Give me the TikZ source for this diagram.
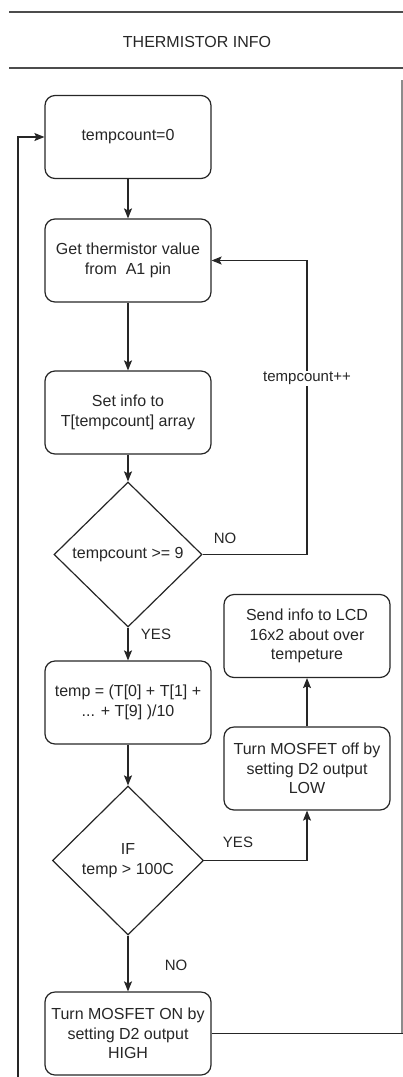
\documentclass[tikz,border=0pt]{standalone}
\usepackage{fontspec}
\setmainfont{Liberation Sans}
\usetikzlibrary{shapes.geometric,arrows.meta}
\begin{document}
\begin{tikzpicture}[x=1pt,y=-1pt,
  boxstyle/.style={draw=black!85,line width=1.2pt,rounded corners=10pt,
    minimum width=166pt,minimum height=83pt,inner sep=0pt,align=center,
    font=\fontsize{16}{19.5}\selectfont,text=black!85},
  decstyle/.style={draw=black!85,line width=1.2pt,diamond,inner sep=0pt,
    align=center,font=\fontsize{16}{19.5}\selectfont,text=black!85},
  conn/.style={draw=black!85,line width=1.2pt},
  arr/.style={conn,-{Stealth[length=10pt,width=8pt,inset=2pt]}},
  lbl/.style={font=\fontsize{15}{18}\selectfont,text=black!85},
  hdr/.style={draw=black!70,line width=1.6pt}
]
\useasboundingbox (0,0) rectangle (403,1077);
% swimlane header
\coordinate (h1a) at (9,12);
\coordinate (h1b) at (403,12);
\coordinate (h2a) at (9,68);
\coordinate (h2b) at (403,68);
\draw[hdr] (h1a) -- (h1b);
\draw[hdr] (h2a) -- (h2b);
\node[font=\fontsize{16}{19.5}\selectfont,text=black!85] (title) at (197,42) {THERMISTOR INFO};
\coordinate (lane1) at (402,80);
\coordinate (lane2) at (402,1033.5);
\draw[draw=black!45,line width=1.2pt] (lane1) -- (lane2);

% nodes
\node[boxstyle] (b1) at (128,137) {tempcount=0};
\node[boxstyle] (b2) at (128,260.5) {Get thermistor value\\from~~A1 pin};
\node[boxstyle] (b3) at (128,412.5) {Set info to\\T[tempcount] array};
\node[decstyle,minimum width=148pt,minimum height=145pt] (d1) at (128,554.5) {tempcount >= 9};
\node[boxstyle] (b4) at (128,702.5) {temp = (T[0] + T[1] +\\... + T[9] )/10};
\node[decstyle,minimum width=151pt,minimum height=149pt] (d2) at (128,860.5) {IF\\temp > 100C};
\node[boxstyle] (b5) at (128,1033.5) {Turn MOSFET ON by\\setting D2 output\\HIGH};
\node[boxstyle] (b6) at (307,768.5) {Turn MOSFET off by\\setting D2 output\\LOW};
\node[boxstyle] (b7) at (307,636) {Send info to LCD\\16x2 about over\\tempeture};

% connectors
\draw[arr] (b1) -- (b2);
\draw[arr] (b2) -- (b3);
\draw[arr] (b3) -- (d1);
\coordinate (nocorner) at (307,554.5);
\draw[arr] (d1.east) -- (nocorner) |- (b2.east)
  node[pos=0.3,fill=white,inner sep=1pt,lbl] {tempcount++};
\node[lbl] (no1) at (225,538) {NO};
\draw[arr] (d1) -- (b4);
\node[lbl] (yes1) at (156,634) {YES};
\draw[arr] (b4) -- (d2);
\draw[arr] (d2.east) -| (b6.south);
\node[lbl] (yes2) at (238,842) {YES};
\draw[arr] (b6) -- (b7);
\draw[arr] (d2) -- (b5);
\node[lbl] (no2) at (176,965) {NO};
\coordinate (rgt) at (403,1033.5);
\draw[conn] (b5.east) -- (rgt);
\coordinate (lbot) at (18,1077);
\draw[arr] (lbot) |- (b1.west);
\end{tikzpicture}
\end{document}
